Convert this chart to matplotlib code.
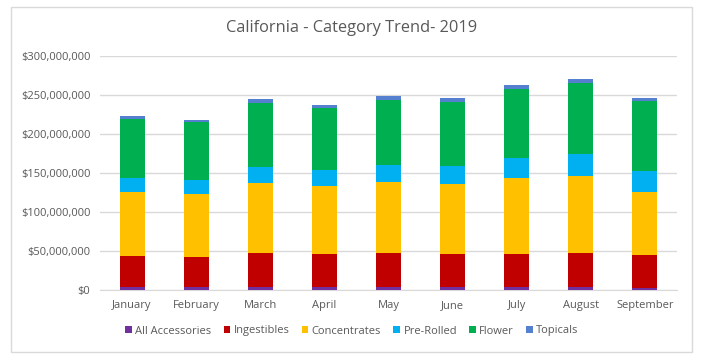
import numpy as np
import matplotlib
matplotlib.use("Agg")
import matplotlib.pyplot as plt
from matplotlib.patches import Rectangle
from matplotlib.ticker import FuncFormatter

# monthly sales by category, in millions of dollars
months = ["January", "February", "March", "April", "May", "June",
          "July", "August", "September"]
categories = ["All Accessories", "Ingestibles", "Concentrates",
              "Pre-Rolled", "Flower", "Topicals"]
accessories = [4.3, 4.3, 4.3, 4.3, 3.8, 3.8, 3.8, 3.8, 2.6]
ingestibles = [39.2, 38.0, 43.5, 42.2, 44.0, 42.7, 42.7, 44.0, 42.2]
concentrates = [82.0, 80.6, 89.2, 87.1, 90.5, 89.2, 97.3, 98.2, 80.7]
prerolled = [18.3, 17.9, 20.9, 20.5, 21.7, 23.1, 25.6, 28.1, 26.9]
flower = [75.6, 74.3, 82.0, 79.4, 83.3, 81.9, 88.0, 90.9, 89.6]
topicals = [3.4, 2.6, 4.7, 3.4, 5.1, 5.1, 5.1, 5.2, 3.8]
colors = ["#7030A0", "#C00000", "#FFC000", "#00B0F0", "#00B050", "#5580D0"]

plt.rcParams["font.family"] = ["Open Sans", "DejaVu Sans"]

fig = plt.figure(figsize=(7.03, 3.6), dpi=100)
fig.patches.append(Rectangle((11 / 703, 1 - 352 / 360), 681 / 703, 345 / 360,
                             transform=fig.transFigure, fill=False,
                             edgecolor="#D9D9D9", lw=1))
ax = fig.add_axes([100 / 703, 1 - 290 / 360, 577 / 703, 234 / 360])

x = np.arange(len(months))
series = [accessories, ingestibles, concentrates, prerolled, flower, topicals]
bottom = np.zeros(len(months))
for name, vals, c in zip(categories, series, colors):
    v = np.array(vals) * 1e6
    ax.bar(x, v, 0.39, bottom=bottom, color=c, label=name, zorder=3)
    bottom += v

ax.set_xlim(-0.5, len(months) - 0.5)
ax.set_ylim(0, 300e6)
ax.set_yticks(np.arange(0, 300e6 + 1, 50e6))
ax.yaxis.set_major_formatter(FuncFormatter(lambda v, p: "${:,.0f}".format(v)))
ax.set_xticks(x)
ax.set_xticklabels(months)
ax.tick_params(length=0, labelsize=8, colors="#595959", pad=7)
ax.grid(axis="y", color="#D9D9D9", lw=1, zorder=0)
for s in ["top", "right", "left"]:
    ax.spines[s].set_visible(False)
ax.spines["bottom"].set_color("#D9D9D9")

fig.text(0.5, 1 - 28 / 360, "California - Category Trend- 2019",
         ha="center", va="center", fontsize=11.8, color="#595959")
fig.legend(loc="center", bbox_to_anchor=(352 / 703, 1 - 331 / 360),
           ncol=6, frameon=False, fontsize=8, handlelength=0.6,
           handleheight=0.6, handletextpad=0.3, columnspacing=1.1,
           labelcolor="#595959")

fig.savefig("out.png", dpi=100)
